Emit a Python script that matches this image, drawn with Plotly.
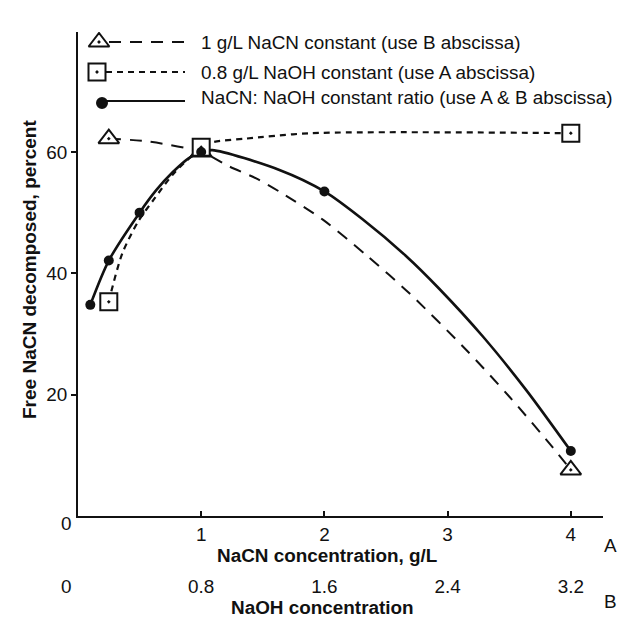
import plotly.graph_objects as go

# ---------------- data ----------------
# A abscissa: NaCN concentration, g/L ; B abscissa: NaOH concentration = 0.8 * A
ratio_x = [0.1, 0.25, 0.5, 1.0, 2.0, 4.0]
ratio_y = [34.8, 42.1, 50.0, 60.0, 53.5, 10.7]
ratio_curve_x = [0.1, 0.25, 0.5, 0.635, 0.77, 0.9, 1.0, 1.09, 1.64, 2.0, 2.31, 2.66, 2.93,
                 3.29, 3.64, 4.0]
ratio_curve_y = [34.8, 42.1, 50.0, 53.7, 56.7, 59.0, 60.0, 60.3, 57.0, 53.5, 48.9, 42.9, 37.5,
                 29.5, 20.7, 10.7]

tri_x = [0.25, 1.0, 4.0]
tri_y = [62.2, 60.0, 7.6]
tri_curve_x = [0.25, 0.58, 1.0, 1.23, 1.45, 1.64, 1.99, 2.34, 2.69, 3.15, 3.5, 3.85, 4.0]
tri_curve_y = [62.2, 61.7, 60.0, 57.6, 55.6, 53.4, 48.8, 43.0, 36.7, 27.4, 19.7, 11.4, 7.6]

sq_x = [0.25, 1.0, 4.0]
sq_y = [35.3, 60.8, 63.1]
sq_curve_x = [0.25, 0.27, 0.36, 0.49, 0.62, 0.77, 0.93, 1.0, 1.09, 1.36, 1.9, 4.0]
sq_curve_y = [35.3, 37.0, 43.3, 48.6, 52.3, 56.3, 59.5, 60.8, 61.6, 62.2, 63.1, 63.1]

a_ticks = [1, 2, 3, 4]
b_ticks = [0.8, 1.6, 2.4, 3.2]
b_ratio = 0.8
y_ticks = [20, 40, 60]

legend_labels = [
    "1 g/L NaCN constant (use B abscissa)",
    "0.8 g/L NaOH constant (use A abscissa)",
    "NaCN: NaOH constant ratio (use A & B abscissa)",
]
x_title_a = "NaCN concentration, g/L"
x_title_b = "NaOH concentration"
y_title = "Free NaCN decomposed, percent"

# ---------------- layout geometry ----------------
W, H = 623, 618
ML, MR, MT, MB = 78, 20, 32, 45
PX_PER_A = 123.2
PX_PER_Y = 6.067
AXIS_Y_PX = 516
plot_w = W - ML - MR
plot_h = H - MT - MB
x_max = plot_w / PX_PER_A
y_dom0 = (H - MB - AXIS_Y_PX) / plot_h
y_max = (AXIS_Y_PX - MT) / PX_PER_Y

FONT = "Liberation Sans, Arial, Helvetica, sans-serif"
FS = 18.9
BLACK = "#111111"


def dx(px):
    return (px - ML) / PX_PER_A


def dy(py):
    return (AXIS_Y_PX - py) / PX_PER_Y


def paper_x(px):
    return (px - ML) / plot_w


def paper_y(py):
    return (H - MB - py) / plot_h


fig = go.Figure()

# curves
fig.add_trace(go.Scatter(x=tri_curve_x, y=tri_curve_y, mode="lines",
                         line=dict(color=BLACK, width=2, dash="12px,9px", shape="spline", smoothing=0.8),
                         hoverinfo="skip", showlegend=False))
fig.add_trace(go.Scatter(x=sq_curve_x, y=sq_curve_y, mode="lines",
                         line=dict(color=BLACK, width=2.2, dash="6px,5px", shape="spline", smoothing=0.8),
                         hoverinfo="skip", showlegend=False))
fig.add_trace(go.Scatter(x=ratio_curve_x, y=ratio_curve_y, mode="lines",
                         line=dict(color=BLACK, width=2.6, shape="spline", smoothing=0.8),
                         hoverinfo="skip", showlegend=False))

# markers
fig.add_trace(go.Scatter(x=tri_x, y=tri_y, mode="markers",
                         marker=dict(symbol="triangle-up-dot", size=18, color="white",
                                     line=dict(color=BLACK, width=2)),
                         name=legend_labels[0], showlegend=False))
fig.add_trace(go.Scatter(x=sq_x, y=sq_y, mode="markers",
                         marker=dict(symbol="square-dot", size=17, color="white",
                                     line=dict(color=BLACK, width=2)),
                         name=legend_labels[1], showlegend=False))
fig.add_trace(go.Scatter(x=ratio_x, y=ratio_y, mode="markers",
                         marker=dict(symbol="circle", size=10, color=BLACK),
                         name=legend_labels[2], showlegend=False))

# empty trace to register the B axis
fig.add_trace(go.Scatter(x=[], y=[], xaxis="x2", yaxis="y", showlegend=False, hoverinfo="skip"))

# ---------------- hand-drawn legend ----------------
leg_items = [
    dict(mx=99, my=42, lx0=109, lx1=187, ly=42, ty=42.5, sym="triangle-up-dot", dash="12px,9px", size=18,
         fill="white"),
    dict(mx=97, my=72, lx0=106, lx1=185, ly=72, ty=72.5, sym="square-dot", dash="6px,5px", size=17,
         fill="white"),
    dict(mx=102, my=103, lx0=103, lx1=185, ly=101, ty=97.5, sym="circle", dash="solid", size=10,
         fill=BLACK),
]
for item, label in zip(leg_items, legend_labels):
    fig.add_trace(go.Scatter(x=[dx(item["lx0"]), dx(item["lx1"])], y=[dy(item["ly"]), dy(item["ly"])],
                             mode="lines", line=dict(color=BLACK, width=2.2, dash=item["dash"]),
                             hoverinfo="skip", showlegend=False))
    fig.add_trace(go.Scatter(x=[dx(item["mx"])], y=[dy(item["my"])], mode="markers",
                             marker=dict(symbol=item["sym"], size=item["size"], color=item["fill"],
                                         line=dict(color=BLACK, width=2)),
                             hoverinfo="skip", showlegend=False))
    fig.add_annotation(x=paper_x(199), y=paper_y(item["ty"]), xref="paper", yref="paper",
                       text=label, showarrow=False, xanchor="left", yanchor="middle",
                       font=dict(family=FONT, size=FS, color=BLACK))

# ---------------- annotations (titles, corner labels) ----------------
ann = [
    dict(x=paper_x(327), y=paper_y(555), text=f"<b>{x_title_a}</b>", size=FS, angle=0),
    dict(x=paper_x(322), y=paper_y(607), text=f"<b>{x_title_b}</b>", size=FS, angle=0),
    dict(x=paper_x(29), y=paper_y(270), text=f"<b>{y_title}</b>", size=19, angle=-90),
    dict(x=paper_x(610), y=paper_y(545), text="A", size=FS, angle=0),
    dict(x=paper_x(610), y=paper_y(601), text="B", size=FS, angle=0),
    dict(x=paper_x(66.5), y=paper_y(523), text="0", size=FS, angle=0),
    dict(x=paper_x(66.5), y=paper_y(586), text="0", size=FS, angle=0),
]
for a in ann:
    fig.add_annotation(x=a["x"], y=a["y"], xref="paper", yref="paper", text=a["text"],
                       showarrow=False, xanchor="center", yanchor="middle", textangle=a["angle"],
                       font=dict(family=FONT, size=a["size"], color=BLACK))

fig.update_layout(
    width=W, height=H,
    margin=dict(l=ML, r=MR, t=MT, b=MB, pad=0),
    paper_bgcolor="white", plot_bgcolor="white",
    font=dict(family=FONT, size=FS, color=BLACK),
    showlegend=False,
    xaxis=dict(range=[0, x_max], domain=[0, 1], anchor="y", tickvals=a_ticks,
               ticktext=[str(v) for v in a_ticks], showline=True, linecolor=BLACK, linewidth=2,
               ticks="inside", ticklen=5, tickwidth=2, tickcolor=BLACK, showgrid=False, zeroline=False,
               tickfont=dict(family=FONT, size=FS, color=BLACK)),
    xaxis2=dict(range=[0, x_max * b_ratio], domain=[0, 1], overlaying="x", anchor="free", position=0,
                side="bottom", tickvals=b_ticks, ticktext=[f"{v:g}" for v in b_ticks],
                showline=False, ticks="", showgrid=False, zeroline=False,
                tickfont=dict(family=FONT, size=FS, color=BLACK)),
    yaxis=dict(range=[0, y_max], domain=[y_dom0, 1], anchor="x", tickvals=y_ticks,
               ticktext=[str(v) for v in y_ticks], showline=True, linecolor=BLACK, linewidth=2,
               ticks="outside", ticklen=5, tickwidth=2, tickcolor=BLACK, showgrid=False, zeroline=False,
               tickfont=dict(family=FONT, size=FS, color=BLACK)),
)

fig.write_html("out.html", config={"displayModeBar": False, "staticPlot": True},
               post_script="document.body.style.margin='0';document.body.style.overflow='hidden';")
